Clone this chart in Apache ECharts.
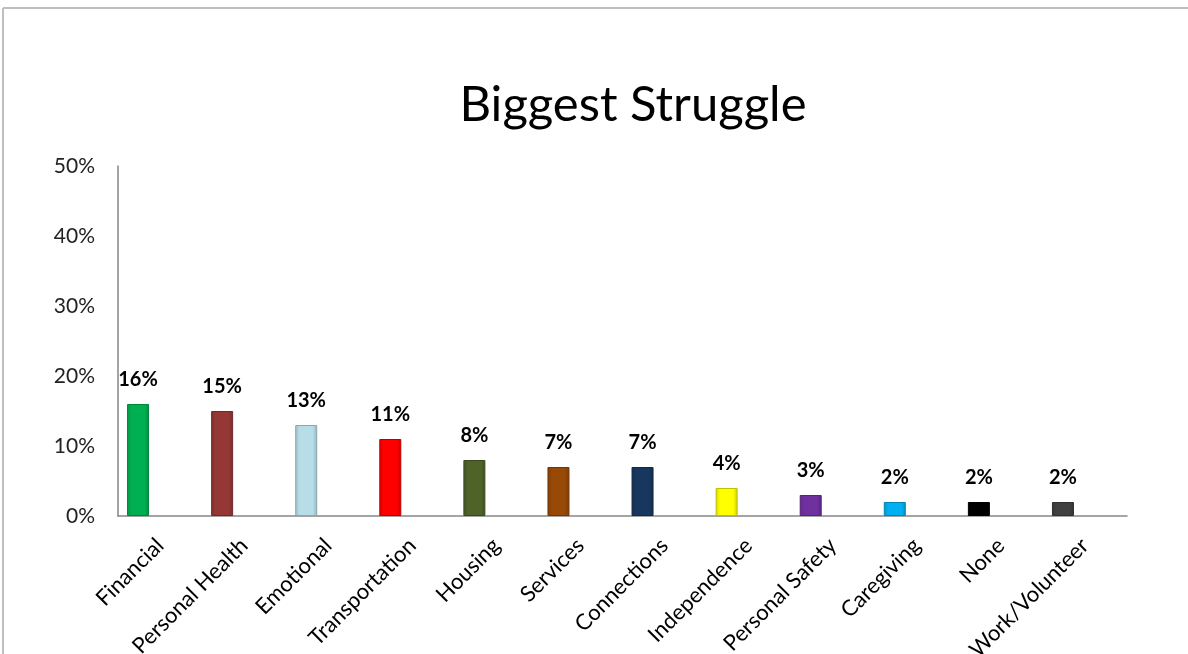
<!DOCTYPE html>
<html><head><meta charset="utf-8">
<script src="https://cdn.jsdelivr.net/npm/echarts@6/dist/echarts.min.js"></script>
<style>html,body{margin:0;padding:0;background:#fff}#c{width:1188px;height:654px}</style>
</head><body><div id="c"></div>
<script>
const categories = ["Financial","Personal Health","Emotional","Transportation","Housing","Services","Connections","Independence","Personal Safety","Caregiving","None","Work/Volunteer"];
const values = [16,15,13,11,8,7,7,4,3,2,2,2];
const barColors = ["#00b050","#953735","#b7dee8","#ff0000","#4f6228","#984807","#17375e","#ffff00","#7030a0","#00b0f0","#000000","#404040"];
const yTicks = [0,10,20,30,40,50];

function shade(hex, f){
  const n=parseInt(hex.slice(1),16);let r=n>>16,g=(n>>8)&255,b=n&255;
  if(f<0){r=Math.round(r*(1+f));g=Math.round(g*(1+f));b=Math.round(b*(1+f));}
  else{r=Math.round(r+(255-r)*f);g=Math.round(g+(255-g)*f);b=Math.round(b+(255-b)*f);}
  return `rgb(${r},${g},${b})`;
}
const FONT = 'Lato, "Open Sans", sans-serif';
const chart = echarts.init(document.getElementById('c'));
chart.setOption({
  backgroundColor:'#fff',
  animation:false,
  title:{text:'Biggest Struggle',left:628,top:76,textAlign:'center',
    textStyle:{fontFamily:FONT,fontSize:49,fontWeight:'normal',color:'#000'}},
  graphic:[
    {type:'line',shape:{x1:3,y1:8,x2:1188,y2:8},style:{stroke:'#bfbfbf',lineWidth:2},silent:true},
    {type:'line',shape:{x1:3,y1:8,x2:3,y2:654},style:{stroke:'#bfbfbf',lineWidth:2},silent:true}],
  grid:{left:118,right:61,top:166,bottom:138,containLabel:false,outerBoundsMode:'none'},
  xAxis:{type:'category',data:categories,
    axisLine:{lineStyle:{color:'#868686',width:1.5}},axisTick:{show:false},
    axisLabel:{rotate:45,interval:0,margin:26,fontFamily:FONT,fontSize:22,color:'#000'}},
  yAxis:{type:'value',min:yTicks[0],max:yTicks[yTicks.length-1],interval:10,
    axisLine:{show:true,lineStyle:{color:'#868686',width:1.5}},axisTick:{show:false},splitLine:{show:false},
    axisLabel:{margin:23,fontFamily:FONT,fontSize:21,color:'#222',formatter:v=>v+'%'}},
  series:[{type:'bar',barWidth:22,barGap:'100%',
    data:values.map((v,i)=>({value:v,itemStyle:{
      color:{type:'linear',x:0,y:0,x2:1,y2:0,colorStops:[
        {offset:0,color:shade(barColors[i],-0.15)},{offset:0.2,color:barColors[i]},
        {offset:0.8,color:barColors[i]},{offset:1,color:shade(barColors[i],-0.2)}]},
      borderColor:shade(barColors[i],-0.25),borderWidth:1}})),
    label:{show:true,position:'top',distance:14,fontFamily:FONT,fontSize:20,fontWeight:'bold',color:'#000',formatter:p=>p.value+'%'}},
   {type:'bar',barWidth:22,data:categories.map(()=>null)}]
});
</script></body></html>
